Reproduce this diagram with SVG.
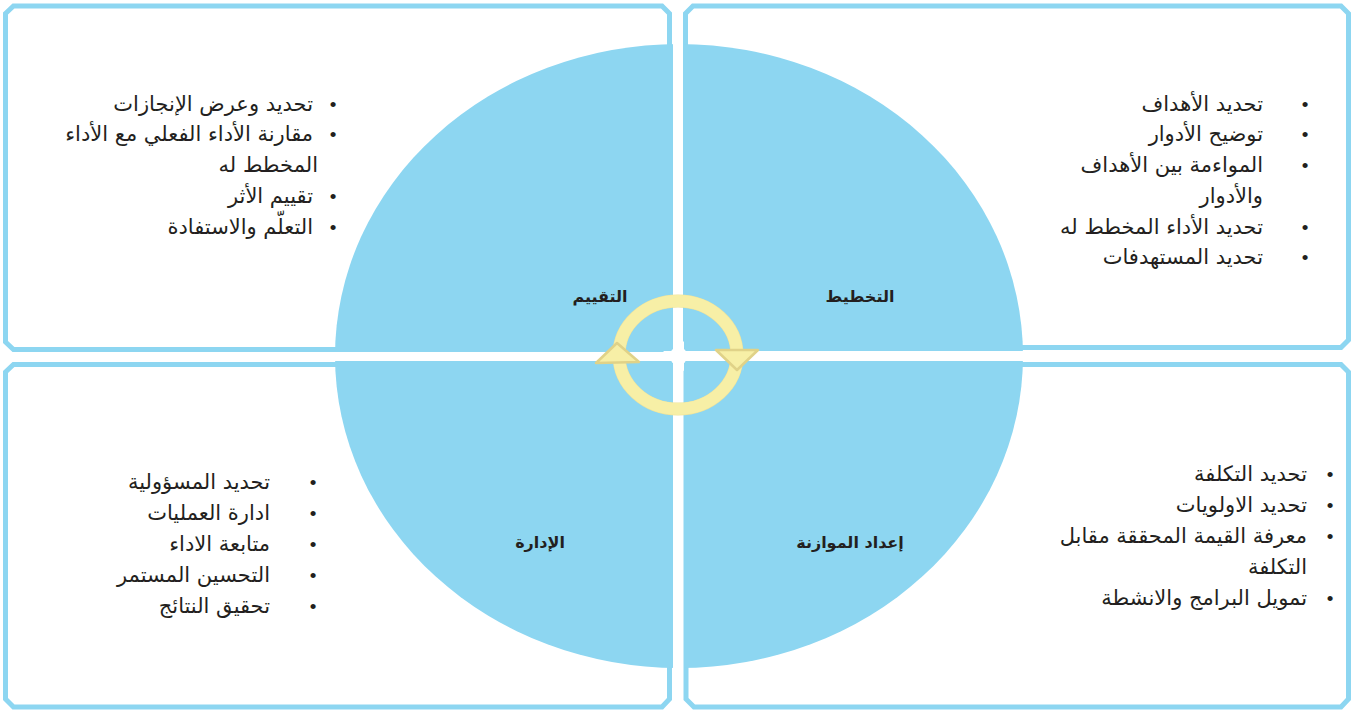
<svg xmlns="http://www.w3.org/2000/svg" width="1351" height="711" viewBox="0 0 1351 711">
<style>
.box{fill:#ffffff;stroke:#8dd6f1;stroke-width:5;stroke-linejoin:miter}
.q{fill:#8dd6f1}
.li{font-family:"DejaVu Sans","Liberation Sans",sans-serif;font-size:21px;fill:#231f20;text-anchor:end}
.bl{font-family:"Liberation Sans",Arial,sans-serif;font-size:19px;fill:#231f20;text-anchor:middle}
.lbl{font-family:"DejaVu Sans","Liberation Sans",sans-serif;font-size:16px;font-weight:bold;fill:#231f20;text-anchor:middle}
.ring{fill:none;stroke:#f7efa6;stroke-width:12}
.ringedge{fill:none;stroke:#efe39a;stroke-width:13}
.head{fill:#f7efa6;stroke:#e0d288;stroke-width:2.5;stroke-linejoin:round}
</style>
<defs>
<clipPath id="circ"><ellipse cx="679" cy="356" rx="344" ry="312"/></clipPath>
</defs>
<g id="box-evaluation">
<path class="box" d="M13.5,6 H662 L669.5,13.5 V342 L662,349.5 H13.5 L5.5,342 V13.5 Z"/>
</g>
<g id="box-planning">
<path class="box" d="M693,6 H1341 L1348.5,13.5 V340 L1341,347.5 H693 L685.5,340 V13.5 Z"/>
</g>
<g id="box-management">
<path class="box" d="M13.5,364.5 H662 L669.5,372 V699 L662,707 H13.5 L5.5,699 V372 Z"/>
</g>
<g id="box-budget">
<path class="box" d="M694,364.5 H1341 L1348.5,372 V699 L1341,707 H694 L686,699 V372 Z"/>
</g>
<g id="circle" clip-path="url(#circ)">
<rect class="q" x="330" y="40" width="343" height="311"/>
<rect class="q" x="684" y="40" width="346" height="311"/>
<rect class="q" x="330" y="361" width="343" height="312"/>
<rect class="q" x="684" y="361" width="346" height="312"/>
</g>
<circle cx="678.5" cy="356" r="9" fill="#ffffff"/>
<g id="connectors">
<ellipse class="ringedge" cx="678" cy="355" rx="59" ry="54"/>
<ellipse class="ring" cx="678" cy="355" rx="59" ry="54"/>
<polygon class="head" points="596,363 617,343 639,362"/>
<polygon class="head" points="716,350 737,370 758,350"/>
</g>
<g id="node-evaluation">
<text class="lbl" x="600" y="302">التقييم</text>
<text class="li" x="313" y="111">تحديد وعرض الإنجازات</text>
<text class="bl" x="333" y="111">•</text>
<text class="li" x="313" y="141">مقارنة الأداء الفعلي مع الأداء</text>
<text class="bl" x="333" y="141">•</text>
<text class="li" x="318" y="172">المخطط له</text>
<text class="li" x="313" y="203">تقييم الأثر</text>
<text class="bl" x="333" y="203">•</text>
<text class="li" x="313" y="234">التعلّم والاستفادة</text>
<text class="bl" x="333" y="234">•</text>
</g>
<g id="node-planning">
<text class="lbl" x="860" y="302">التخطيط</text>
<text class="li" x="1263" y="111">تحديد الأهداف</text>
<text class="bl" x="1305" y="111">•</text>
<text class="li" x="1263" y="141">توضيح الأدوار</text>
<text class="bl" x="1305" y="141">•</text>
<text class="li" x="1263" y="172">المواءمة بين الأهداف</text>
<text class="bl" x="1305" y="172">•</text>
<text class="li" x="1263" y="203">والأدوار</text>
<text class="li" x="1263" y="234">تحديد الأداء المخطط له</text>
<text class="bl" x="1305" y="234">•</text>
<text class="li" x="1263" y="264">تحديد المستهدفات</text>
<text class="bl" x="1305" y="264">•</text>
</g>
<g id="node-management">
<text class="lbl" x="540" y="548">الإدارة</text>
<text class="li" x="270" y="489">تحديد المسؤولية</text>
<text class="bl" x="313" y="489">•</text>
<text class="li" x="270" y="520">ادارة العمليات</text>
<text class="bl" x="313" y="520">•</text>
<text class="li" x="270" y="551">متابعة الاداء</text>
<text class="bl" x="313" y="551">•</text>
<text class="li" x="270" y="582">التحسين المستمر</text>
<text class="bl" x="313" y="582">•</text>
<text class="li" x="270" y="613">تحقيق النتائج</text>
<text class="bl" x="313" y="613">•</text>
</g>
<g id="node-budget">
<text class="lbl" x="850" y="548">إعداد الموازنة</text>
<text class="li" x="1307" y="481">تحديد التكلفة</text>
<text class="bl" x="1330" y="481">•</text>
<text class="li" x="1307" y="512">تحديد الاولويات</text>
<text class="bl" x="1330" y="512">•</text>
<text class="li" x="1307" y="543">معرفة القيمة المحققة مقابل</text>
<text class="bl" x="1330" y="543">•</text>
<text class="li" x="1307" y="574">التكلفة</text>
<text class="li" x="1307" y="605">تمويل البرامج والانشطة</text>
<text class="bl" x="1330" y="605">•</text>
</g>
</svg>
